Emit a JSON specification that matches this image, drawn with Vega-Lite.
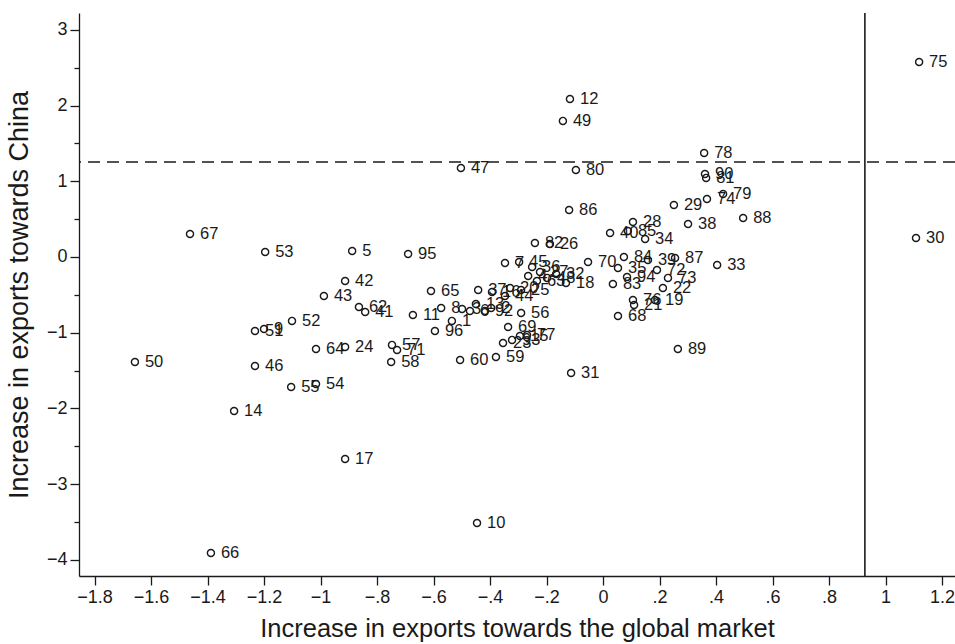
{
  "$schema": "https://vega.github.io/schema/vega-lite/v6.json",
  "width": 876,
  "height": 563,
  "autosize": "none",
  "padding": {"left": 79, "top": 13, "right": 0, "bottom": 68},
  "background": "white",
  "config": {"view": {"stroke": null}, "font": "Liberation Sans"},
  "datasets": {
    "pts": [
      {"id": "75", "x": 1.119, "y": 2.576},
      {"id": "30", "x": 1.108, "y": 0.251},
      {"id": "12", "x": -0.117, "y": 2.087},
      {"id": "49", "x": -0.142, "y": 1.797},
      {"id": "47", "x": -0.503, "y": 1.176},
      {"id": "80", "x": -0.096, "y": 1.149},
      {"id": "78", "x": 0.358, "y": 1.374},
      {"id": "90", "x": 0.361, "y": 1.096},
      {"id": "81", "x": 0.365, "y": 1.044},
      {"id": "29", "x": 0.251, "y": 0.687},
      {"id": "74", "x": 0.368, "y": 0.766},
      {"id": "79", "x": 0.425, "y": 0.832},
      {"id": "86", "x": -0.12, "y": 0.621},
      {"id": "88", "x": 0.496, "y": 0.515},
      {"id": "38", "x": 0.301, "y": 0.436},
      {"id": "28", "x": 0.106, "y": 0.462},
      {"id": "40", "x": 0.025, "y": 0.317},
      {"id": "85", "x": 0.088, "y": 0.343},
      {"id": "34", "x": 0.149, "y": 0.238},
      {"id": "82", "x": -0.241, "y": 0.185},
      {"id": "26", "x": -0.188, "y": 0.172},
      {"id": "67", "x": -1.462, "y": 0.304},
      {"id": "53", "x": -1.196, "y": 0.066},
      {"id": "5", "x": -0.888, "y": 0.079},
      {"id": "95", "x": -0.69, "y": 0.04},
      {"id": "70", "x": -0.053, "y": -0.066},
      {"id": "84", "x": 0.074, "y": 0.0},
      {"id": "39", "x": 0.159, "y": -0.04},
      {"id": "87", "x": 0.255, "y": -0.013},
      {"id": "33", "x": 0.404, "y": -0.106},
      {"id": "35", "x": 0.053, "y": -0.145},
      {"id": "72", "x": 0.191, "y": -0.172},
      {"id": "94", "x": 0.085, "y": -0.264},
      {"id": "83", "x": 0.035, "y": -0.357},
      {"id": "73", "x": 0.23, "y": -0.277},
      {"id": "22", "x": 0.212, "y": -0.41},
      {"id": "76", "x": 0.106, "y": -0.568},
      {"id": "21", "x": 0.11, "y": -0.634},
      {"id": "19", "x": 0.184, "y": -0.568},
      {"id": "68", "x": 0.053, "y": -0.779},
      {"id": "7", "x": -0.347, "y": -0.079},
      {"id": "45", "x": -0.297, "y": -0.066},
      {"id": "36", "x": -0.251, "y": -0.132},
      {"id": "27", "x": -0.223, "y": -0.198},
      {"id": "4", "x": -0.265, "y": -0.251},
      {"id": "63", "x": -0.234, "y": -0.317},
      {"id": "48", "x": -0.198, "y": -0.277},
      {"id": "32", "x": -0.166, "y": -0.225},
      {"id": "18", "x": -0.131, "y": -0.343},
      {"id": "37", "x": -0.442, "y": -0.436},
      {"id": "16", "x": -0.393, "y": -0.462},
      {"id": "20", "x": -0.329, "y": -0.41},
      {"id": "25", "x": -0.29, "y": -0.436},
      {"id": "44", "x": -0.347, "y": -0.515},
      {"id": "65", "x": -0.609, "y": -0.449},
      {"id": "42", "x": -0.913, "y": -0.317},
      {"id": "43", "x": -0.988, "y": -0.515},
      {"id": "62", "x": -0.864, "y": -0.661},
      {"id": "41", "x": -0.842, "y": -0.727},
      {"id": "52", "x": -1.101, "y": -0.845},
      {"id": "9", "x": -1.2, "y": -0.951},
      {"id": "51", "x": -1.232, "y": -0.978},
      {"id": "11", "x": -0.673, "y": -0.766},
      {"id": "8", "x": -0.573, "y": -0.674},
      {"id": "1", "x": -0.535, "y": -0.845},
      {"id": "3", "x": -0.499, "y": -0.687},
      {"id": "6", "x": -0.471, "y": -0.713},
      {"id": "13", "x": -0.45, "y": -0.621},
      {"id": "92", "x": -0.418, "y": -0.713},
      {"id": "2", "x": -0.396, "y": -0.674},
      {"id": "56", "x": -0.29, "y": -0.74},
      {"id": "96", "x": -0.595, "y": -0.978},
      {"id": "69", "x": -0.336, "y": -0.925},
      {"id": "23", "x": -0.354, "y": -1.136},
      {"id": "93", "x": -0.322, "y": -1.096},
      {"id": "15", "x": -0.294, "y": -1.044},
      {"id": "77", "x": -0.269, "y": -1.03},
      {"id": "60", "x": -0.506, "y": -1.361},
      {"id": "59", "x": -0.379, "y": -1.321},
      {"id": "64", "x": -1.016, "y": -1.215},
      {"id": "24", "x": -0.913, "y": -1.189},
      {"id": "57", "x": -0.747, "y": -1.162},
      {"id": "71", "x": -0.729, "y": -1.229},
      {"id": "58", "x": -0.75, "y": -1.387},
      {"id": "46", "x": -1.232, "y": -1.44},
      {"id": "55", "x": -1.104, "y": -1.717},
      {"id": "54", "x": -1.016, "y": -1.678},
      {"id": "50", "x": -1.657, "y": -1.387},
      {"id": "14", "x": -1.306, "y": -2.034},
      {"id": "17", "x": -0.913, "y": -2.668},
      {"id": "66", "x": -1.388, "y": -3.91},
      {"id": "10", "x": -0.446, "y": -3.514},
      {"id": "31", "x": -0.113, "y": -1.532},
      {"id": "89", "x": 0.265, "y": -1.215}
    ],
    "hline": [{"y": 1.255}],
    "vline": [{"x": 0.927}]
  },
  "layer": [
    {
      "data": {"name": "pts"},
      "mark": {"type": "point", "shape": "circle", "filled": false, "size": 50, "strokeWidth": 1.4, "color": "#1a1a1a", "opacity": 1},
      "encoding": {
        "x": {
          "field": "x", "type": "quantitative",
          "scale": {"domain": [-1.855, 1.246], "nice": false, "zero": false},
          "axis": {
            "title": "Increase in exports towards the global market",
            "values": [-1.8, -1.7, -1.6, -1.5, -1.4, -1.3, -1.2, -1.1, -1, -0.9, -0.8, -0.7, -0.6, -0.5, -0.4, -0.3, -0.2, -0.1, 0, 0.1, 0.2, 0.3, 0.4, 0.5, 0.6, 0.7, 0.8, 0.9, 1, 1.1, 1.2],
            "labelExpr": "abs(round(datum.value*10))%2==1 ? '' : replace(format(datum.value, '.1~f'), regexp('^([^0-9]?)0[.]'), '$1.')",
            "tickSize": {"condition": {"test": "abs(round(datum.value*10))%2==0", "value": 9}, "value": 5},
            "grid": false,
            "domainColor": "#1a1a1a", "domainWidth": 1.3,
            "tickColor": "#1a1a1a", "tickWidth": 1.3,
            "labelColor": "#1a1a1a", "labelFontSize": 18, "labelPadding": 3,
            "labelFlush": false, "labelOverlap": false,
            "titleFontSize": 25.5, "titleFontWeight": "normal", "titleColor": "#1a1a1a", "titlePadding": 10
          }
        },
        "y": {
          "field": "y", "type": "quantitative",
          "scale": {"domain": [-4.214, 3.223], "nice": false, "zero": false},
          "axis": {
            "title": "Increase in exports towards China",
            "values": [-4, -3.5, -3, -2.5, -2, -1.5, -1, -0.5, 0, 0.5, 1, 1.5, 2, 2.5, 3],
            "labelExpr": "datum.value % 1 == 0 ? format(datum.value, 'd') : ''",
            "tickSize": {"condition": {"test": "datum.value % 1 == 0", "value": 9}, "value": 5},
            "grid": false,
            "domainColor": "#1a1a1a", "domainWidth": 1.3,
            "tickColor": "#1a1a1a", "tickWidth": 1.3,
            "labelColor": "#1a1a1a", "labelFontSize": 18, "labelPadding": 3,
            "labelFlush": false, "labelOverlap": false,
            "titleFontSize": 27, "titleFontWeight": "normal", "titleColor": "#1a1a1a", "titlePadding": 13
          }
        }
      }
    },
    {
      "data": {"name": "pts"},
      "mark": {"type": "text", "align": "left", "baseline": "middle", "dx": 10, "fontSize": 16.5, "color": "#1a1a1a"},
      "encoding": {
        "x": {"field": "x", "type": "quantitative", "scale": {"domain": [-1.855, 1.246], "nice": false, "zero": false}},
        "y": {"field": "y", "type": "quantitative", "scale": {"domain": [-4.214, 3.223], "nice": false, "zero": false}},
        "text": {"field": "id", "type": "nominal"}
      }
    },
    {
      "data": {"name": "hline"},
      "mark": {"type": "rule", "strokeDash": [12, 7], "strokeWidth": 1.3, "color": "#1a1a1a"},
      "encoding": {
        "y": {"field": "y", "type": "quantitative", "scale": {"domain": [-4.214, 3.223], "nice": false, "zero": false}}
      }
    },
    {
      "data": {"name": "vline"},
      "mark": {"type": "rule", "strokeWidth": 1.6, "color": "#1a1a1a"},
      "encoding": {
        "x": {"field": "x", "type": "quantitative", "scale": {"domain": [-1.855, 1.246], "nice": false, "zero": false}}
      }
    }
  ]
}
